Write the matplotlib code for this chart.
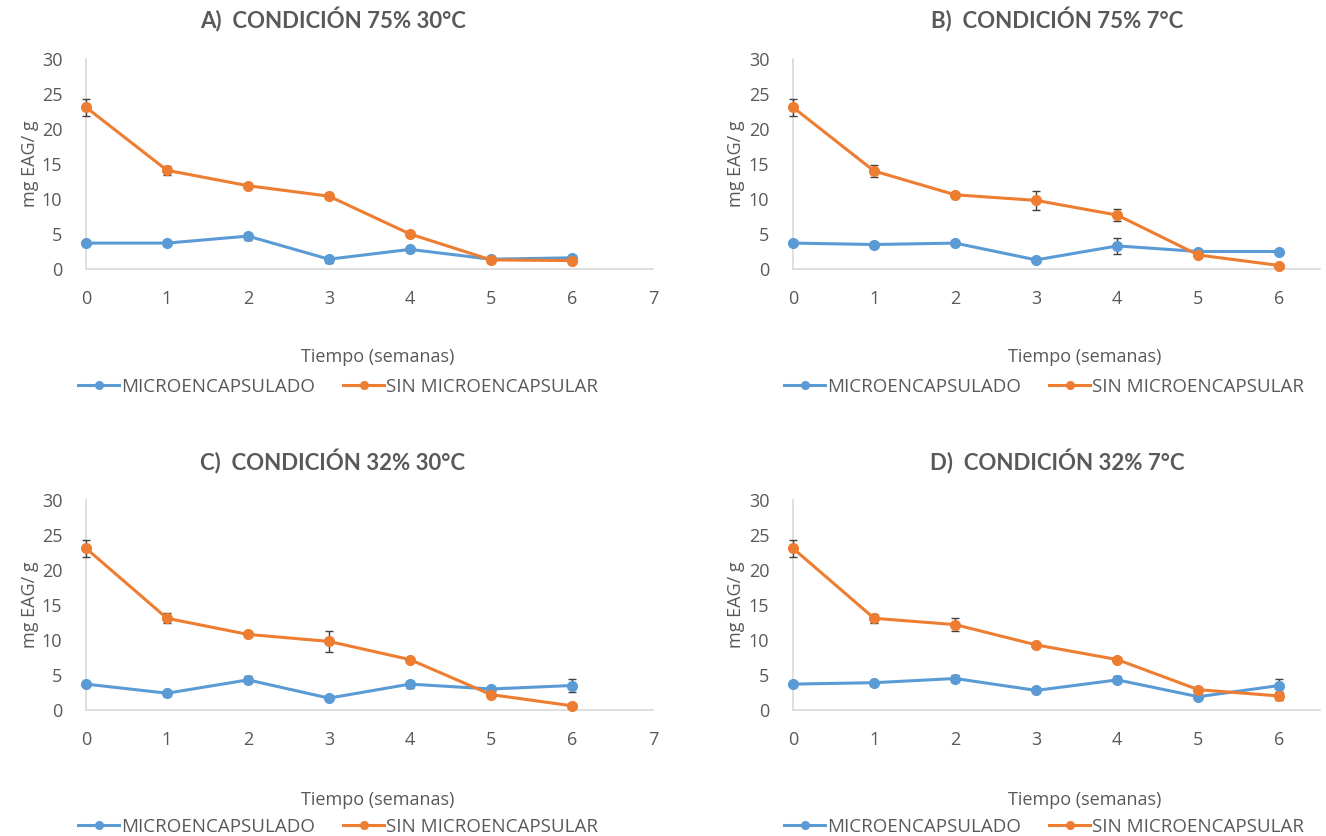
import matplotlib
matplotlib.use("Agg")
import matplotlib.pyplot as plt
from matplotlib.lines import Line2D

plt.rcParams['font.family'] = ['Open Sans', 'DejaVu Sans']

weeks = [0, 1, 2, 3, 4, 5, 6]
titles = ["A)  CONDICIÓN 75% 30°C", "B)  CONDICIÓN 75% 7°C",
          "C)  CONDICIÓN 32% 30°C", "D)  CONDICIÓN 32% 7°C"]
series_names = ["MICROENCAPSULADO", "SIN MICROENCAPSULAR"]

micro_A = [3.7, 3.7, 4.7, 1.4, 2.8, 1.4, 1.6]
micro_A_err = [0.3, 0.3, 0.5, 0.5, 0.3, 0.3, 0.2]
sin_A = [23.1, 14.1, 11.9, 10.4, 5.0, 1.3, 1.2]
sin_A_err = [1.2, 0.6, 0.2, 0.4, 0.2, 0.5, 0.2]

micro_B = [3.7, 3.5, 3.7, 1.3, 3.3, 2.5, 2.5]
micro_B_err = [0.2, 0.3, 0.2, 0.2, 1.1, 0.2, 0.2]
sin_B = [23.1, 14.0, 10.6, 9.8, 7.7, 2.0, 0.5]
sin_B_err = [1.2, 0.9, 0.2, 1.3, 0.9, 0.2, 0.2]

micro_C = [3.7, 2.4, 4.3, 1.7, 3.7, 3.0, 3.5]
micro_C_err = [0.2, 0.2, 0.5, 0.2, 0.5, 0.2, 0.9]
sin_C = [23.1, 13.1, 10.8, 9.8, 7.2, 2.2, 0.6]
sin_C_err = [1.2, 0.7, 0.2, 1.5, 0.2, 0.2, 0.1]

micro_D = [3.7, 3.9, 4.5, 2.8, 4.3, 1.9, 3.5]
micro_D_err = [0.2, 0.2, 0.5, 0.2, 0.5, 0.2, 0.9]
sin_D = [23.1, 13.1, 12.2, 9.3, 7.2, 2.9, 2.0]
sin_D_err = [1.2, 0.6, 0.9, 0.2, 0.2, 0.2, 0.6]

panels = [
    (micro_A, micro_A_err, sin_A, sin_A_err, 7, 7),
    (micro_B, micro_B_err, sin_B, sin_B_err, 6.5, 6),
    (micro_C, micro_C_err, sin_C, sin_C_err, 7, 7),
    (micro_D, micro_D_err, sin_D, sin_D_err, 6.5, 6),
]

W, H = 1326, 836
fig = plt.figure(figsize=(W / 100, H / 100), dpi=100)

# axes boxes in pixels: left, right, top, bottom
boxes = [(86, 653, 59, 269), (793, 1320, 59, 269),
         (86, 653, 500, 710), (793, 1320, 500, 710)]
title_pos = [(333, 20), (1057, 20), (333, 462), (1057, 462)]
xlabel_pos = [(378, 357), (1085, 357), (378, 800), (1085, 800)]
legend_pos = [(338, 387), (1044, 387), (338, 827), (1044, 827)]
ylabel_x = [30, 736, 30, 736]

blue = '#5B9BD5'
orange = '#ED7D31'
gray_txt = '#595959'
axis_col = '#D9D9D9'

for i, (m, me, s, se, xmax, xt) in enumerate(panels):
    l, r, t, b = boxes[i]
    ax = fig.add_axes([l / W, 1 - b / H, (r - l) / W, (b - t) / H])
    for vals, errs, col in ((m, me, blue), (s, se, orange)):
        ax.errorbar(weeks, vals, yerr=errs, color=col, lw=2.2, marker='o', ms=7,
                    ecolor='#404040', elinewidth=1, capsize=3, capthick=1,
                    zorder=3, clip_on=False)
    ax.set_xlim(0, xmax)
    ax.set_ylim(0, 30)
    ax.set_xticks(range(0, xt + 1))
    ax.set_yticks(range(0, 31, 5))
    for sp in ['top', 'right']:
        ax.spines[sp].set_visible(False)
    for sp in ['left', 'bottom']:
        ax.spines[sp].set_color(axis_col)
        ax.spines[sp].set_linewidth(1.2)
    ax.tick_params(axis='y', length=0, labelsize=13, colors=gray_txt, pad=17)
    ax.tick_params(axis='x', length=0, labelsize=13, colors=gray_txt, pad=15)

    tx, ty = title_pos[i]
    fig.text(tx / W, 1 - ty / H, titles[i], ha='center', va='center',
             fontsize=16, fontweight='bold', color=gray_txt, family=['Lato'])
    xx, xy = xlabel_pos[i]
    fig.text(xx / W, 1 - xy / H, "Tiempo (semanas)", ha='center', va='center',
             fontsize=13, color=gray_txt)
    fig.text(ylabel_x[i] / W, 1 - ((t + b) / 2) / H, "mg EAG/ g", rotation=90,
             ha='center', va='center', fontsize=13, color=gray_txt)
    h1 = Line2D([], [], color=blue, lw=2.2, marker='o', ms=5.5)
    h2 = Line2D([], [], color=orange, lw=2.2, marker='o', ms=5.5)
    lx, ly = legend_pos[i]
    fig.legend(handles=[h1, h2], labels=series_names, loc='center',
               bbox_to_anchor=(lx / W, 1 - ly / H), ncol=2, frameon=False,
               fontsize=13.5, handlelength=2.2, columnspacing=1.5,
               handletextpad=0.1, labelcolor=gray_txt, borderpad=0)

fig.savefig("out.png", dpi=100)
